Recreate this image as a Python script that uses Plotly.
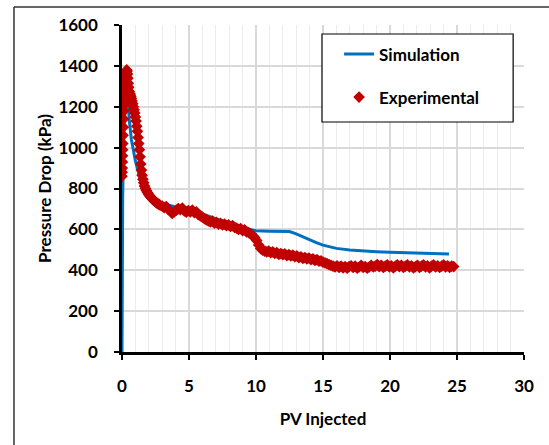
import plotly.graph_objects as go

# ---------------- data ----------------
sim_x = [0.0, 0.02, 0.05, 0.1, 0.15, 0.25, 0.35, 0.45, 0.55, 0.7, 0.85, 1.0, 1.2, 1.4, 1.7,
         2.0, 2.5, 3.0, 3.5, 4.0, 5.0, 6.0, 7.0, 8.0, 9.0, 10.0, 11.0, 12.0, 12.5, 13.0,
         13.5, 14.0, 14.5, 15.0, 15.5, 16.0, 17.0, 18.0, 19.0, 20.0, 21.0, 22.0, 23.0, 24.0, 24.4]
sim_y = [0, 450, 750, 950, 1100, 1200, 1240, 1230, 1130, 1040, 980, 935, 885, 840, 796,
         770, 745, 728, 718, 710, 700, 675, 650, 628, 608, 593, 591, 591, 589, 578,
         563, 548, 535, 523, 514, 507, 499, 494, 491, 488, 486, 484, 482, 481, 480]

exp_x_early = [0.00, 0.01, 0.02, 0.03, 0.04, 0.05, 0.06, 0.08, 0.10, 0.12,
               0.14, 0.16, 0.18, 0.20, 0.23, 0.26, 0.29, 0.32, 0.35, 0.38,
               0.41, 0.44, 0.47, 0.50, 0.54, 0.58, 0.62, 0.66, 0.70, 0.75,
               0.80, 0.85, 0.90, 0.95, 1.00, 1.05, 1.10, 1.15, 1.20, 1.25,
               1.30, 1.35, 1.40, 1.45, 1.50, 1.56, 1.62, 1.68, 1.75, 1.82,
               1.90, 1.98, 2.06, 2.14, 2.22, 2.31, 2.40, 2.49, 2.58, 2.67,
               2.76, 2.85]
exp_y_early = [860, 880, 900, 930, 960, 990, 1020, 1060, 1100, 1140,
               1180, 1210, 1240, 1270, 1300, 1330, 1350, 1370, 1380, 1375,
               1360, 1340, 1315, 1295, 1275, 1265, 1258, 1250, 1240, 1228,
               1215, 1200, 1185, 1170, 1150, 1130, 1105, 1080, 1050, 1020,
               990, 955, 920, 890, 865, 845, 828, 812, 800, 790,
               780, 772, 764, 758, 752, 746, 740, 735, 730, 726,
               722, 718]

exp_x_main = [3.00, 3.15, 3.30, 3.45, 3.60, 3.75, 3.90, 4.05, 4.20, 4.35,
              4.50, 4.65, 4.80, 4.95, 5.10, 5.25, 5.40, 5.55, 5.70, 5.85,
              6.00, 6.15, 6.30, 6.45, 6.60, 6.75, 6.90, 7.05, 7.20, 7.35,
              7.50, 7.65, 7.80, 7.95, 8.10, 8.25, 8.40, 8.55, 8.70, 8.85,
              9.00, 9.15, 9.30, 9.45, 9.60, 9.75, 9.90, 10.05, 10.20, 10.35,
              10.50, 10.65, 10.80, 10.95, 11.10, 11.25, 11.40, 11.55, 11.70, 11.85,
              12.00, 12.15, 12.30, 12.45, 12.60, 12.75, 12.90, 13.05, 13.20, 13.35,
              13.50, 13.65, 13.80, 13.95, 14.10, 14.25, 14.40, 14.55, 14.70, 14.85,
              15.00, 15.15, 15.30, 15.45, 15.60, 15.75, 15.90, 16.05, 16.20, 16.35,
              16.50, 16.65, 16.80, 16.95, 17.10, 17.25, 17.40, 17.55, 17.70, 17.85,
              18.00, 18.15, 18.30, 18.45, 18.60, 18.75, 18.90, 19.05, 19.20, 19.35,
              19.50, 19.65, 19.80, 19.95, 20.10, 20.25, 20.40, 20.55, 20.70, 20.85,
              21.00, 21.15, 21.30, 21.45, 21.60, 21.75, 21.90, 22.05, 22.20, 22.35,
              22.50, 22.65, 22.80, 22.95, 23.10, 23.25, 23.40, 23.55, 23.70, 23.85,
              24.00, 24.15, 24.30, 24.45, 24.60, 24.75]
exp_y_main = [714, 706, 712, 698, 690, 678, 686, 694, 702, 696,
              704, 690, 684, 692, 686, 694, 682, 686, 672, 666,
              660, 652, 646, 642, 636, 640, 630, 634, 626, 630,
              622, 626, 618, 622, 614, 618, 610, 606, 600, 604,
              594, 598, 588, 584, 578, 570, 560, 545, 524, 506,
              498, 494, 490, 494, 486, 490, 482, 486, 478, 482,
              476, 480, 472, 476, 470, 474, 466, 470, 462, 466,
              458, 462, 456, 460, 452, 456, 448, 452, 444, 446,
              440, 436, 432, 428, 424, 420, 416, 422, 414, 420,
              412, 418, 410, 418, 422, 414, 420, 410, 416, 424,
              414, 418, 410, 416, 424, 416, 420, 428, 418, 424,
              414, 420, 426, 416, 422, 412, 420, 426, 418, 424,
              414, 420, 426, 416, 422, 412, 418, 424, 414, 420,
              426, 416, 422, 412, 420, 426, 416, 422, 414, 420,
              426, 416, 422, 414, 420, 418]

exp_x = exp_x_early + exp_x_main
exp_y = exp_y_early + exp_y_main

x_ticks = [0, 5, 10, 15, 20, 25, 30]
y_ticks = [0, 200, 400, 600, 800, 1000, 1200, 1400, 1600]

FONT = "Lato"
FS = 17

# ---------------- figure ----------------
fig = go.Figure()
fig.add_trace(go.Scatter(
    x=sim_x, y=sim_y, mode="lines", name="Simulation",
    line=dict(color="#0070C0", width=3), legendgroup="a"))
fig.add_trace(go.Scatter(
    x=exp_x, y=exp_y, mode="markers", name="Experimental",
    marker=dict(symbol="diamond", color="#C00000", size=9,
                line=dict(width=0)), legendgroup="b"))

axis_common = dict(
    showline=True, linecolor="black", linewidth=2.5,
    ticks="outside", ticklen=5, tickwidth=2, tickcolor="black",
    tickfont=dict(family=FONT, size=FS, color="black", weight="bold"),
    zeroline=False, showgrid=True, gridcolor="#d9d9d9", gridwidth=1.5,
)

fig.update_xaxes(
    range=[0, 30], tickvals=x_ticks, ticklabelstandoff=12,
    minor=dict(dtick=1, showgrid=True, gridcolor="#ececec", gridwidth=1, ticks=""),
    title=dict(text="PV Injected", font=dict(family=FONT, size=FS, color="black", weight="bold"),
               standoff=18),
    **axis_common)
fig.update_yaxes(
    range=[0, 1600], tickvals=y_ticks, ticklabelstandoff=13,
    title=dict(text="Pressure Drop (kPa)", font=dict(family=FONT, size=FS, color="black", weight="bold"),
               standoff=3),
    **axis_common)

# legend frame and outer frame lines
shapes = [
    dict(type="rect", xref="paper", yref="paper", x0=0.4975, x1=0.973, y0=0.7034, y1=0.9725,
         line=dict(color="black", width=1.2), fillcolor="white", layer="above"),
    dict(type="line", xref="paper", yref="paper", x0=-0.2687, x1=1.07, y0=1.055, y1=1.055,
         line=dict(color="#333333", width=1.5)),
    dict(type="line", xref="paper", yref="paper", x0=-0.2687, x1=-0.2687, y0=1.055, y1=-0.30,
         line=dict(color="#333333", width=1.5)),
]

fig.update_layout(
    width=549, height=445,
    margin=dict(l=122, r=25, t=25, b=93),
    paper_bgcolor="white", plot_bgcolor="white",
    shapes=shapes,
    showlegend=True,
    legend=dict(x=0.54, y=0.965, xanchor="left", yanchor="top",
                bgcolor="rgba(0,0,0,0)", borderwidth=0,
                traceorder="grouped", tracegroupgap=18,
                font=dict(family=FONT, size=FS, color="black", weight="bold")),
)

fig.write_html("out.html")
